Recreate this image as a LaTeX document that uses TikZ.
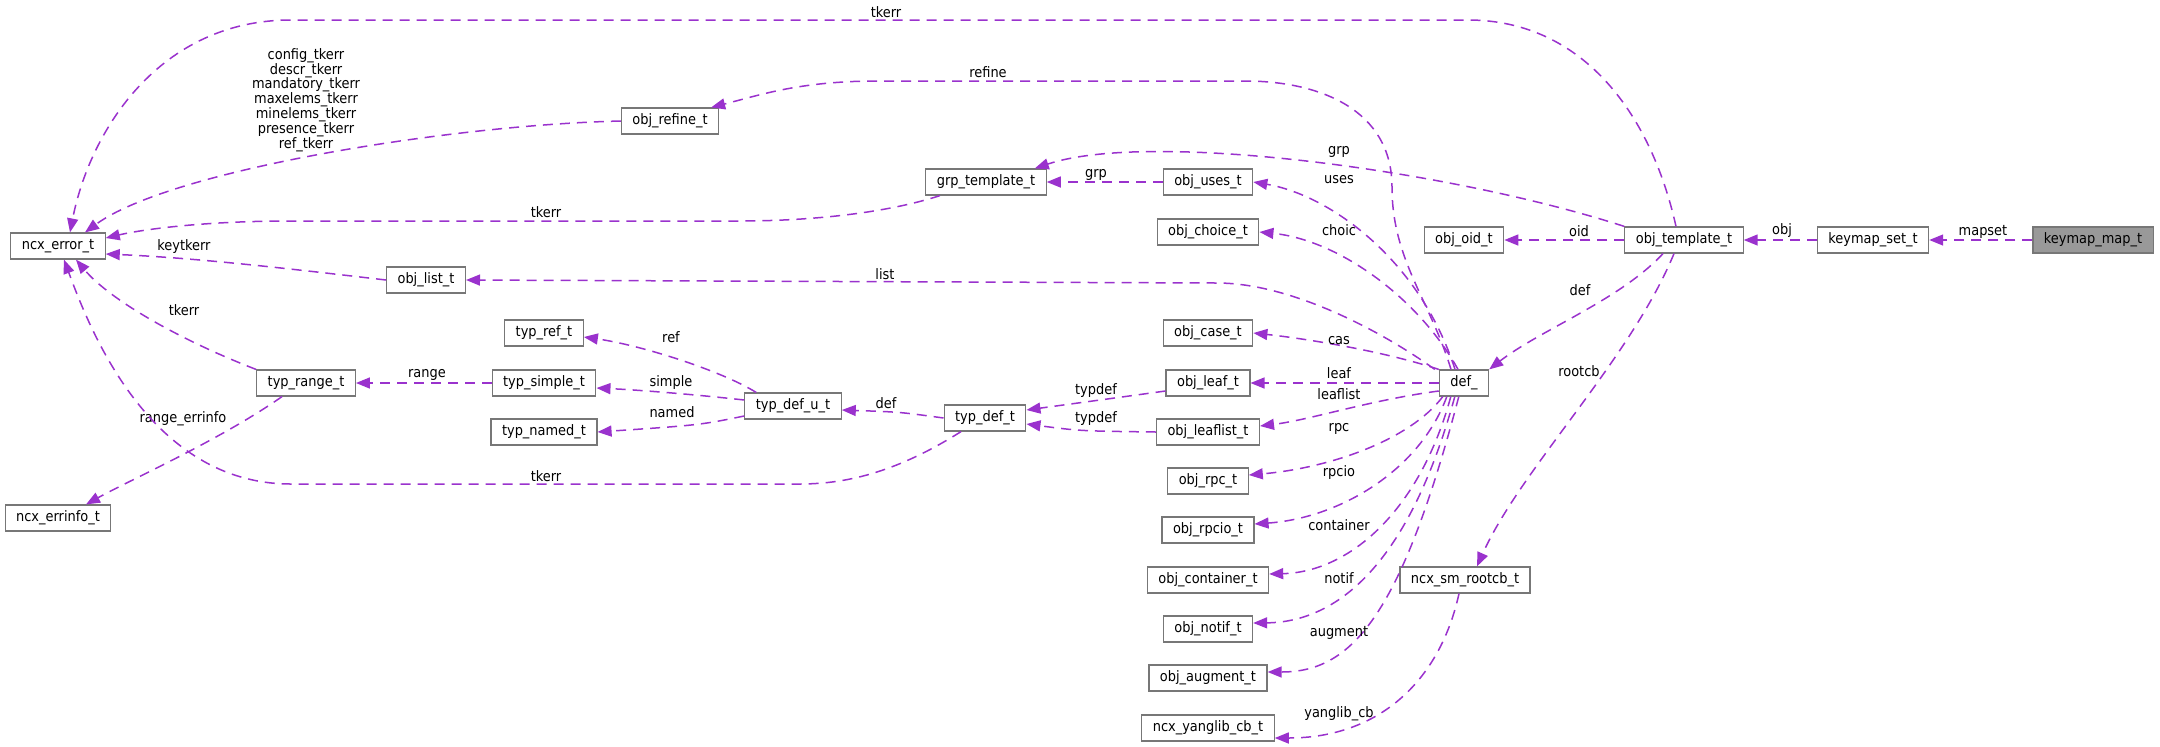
\documentclass[tikz,border=0pt]{standalone}
\usepackage{fontspec}
\setmainfont{DejaVu Sans Condensed}
\usetikzlibrary{arrows.meta}
\definecolor{memberpurple}{HTML}{9A32CD}
\definecolor{boxgray}{HTML}{777777}
\tikzset{%
	struct/.style={
		draw=boxgray,
		line width=0.6pt,
		fill=white,
		minimum height=13pt,
		inner xsep=5.5pt,
		inner ysep=0pt
	},
	focus/.style={
		struct,
		fill=black!40
	},
	member/.style={
		draw=memberpurple,
		line width=0.75pt,
		dash pattern=on 5pt off 3.5pt,
		-{Triangle[length=7pt,width=5.5pt]}
	},
	elabel/.style={inner sep=0pt},
}

\begin{document}
\begin{tikzpicture}[x=0.5pt,y=-0.5pt,font=\fontsize{7.2}{8.6}\selectfont]
			\useasboundingbox (0,0) rectangle (2160,746);
			
			\node[focus](kmap) at (2093,240){keymap\_map\_t};
			\node[struct](kset) at (1873,240){keymap\_set\_t};
			\node[struct](tmpl) at (1684,240){obj\_template\_t};
			\node[struct](oid) at (1464,240){obj\_oid\_t};
			\node[struct](defn) at (1464,383){def\_};
			\node[struct](rootcb) at (1465,580){ncx\_sm\_rootcb\_t};
			
			\node[struct](uses) at (1208,182){obj\_uses\_t};
			\node[struct](choice) at (1208,232){obj\_choice\_t};
			\node[struct](ocase) at (1208,333){obj\_case\_t};
			\node[struct](leaf) at (1208,383){obj\_leaf\_t};
			\node[struct](leaflist) at (1208,432){obj\_leaflist\_t};
			\node[struct](rpc) at (1208,481){obj\_rpc\_t};
			\node[struct](rpcio) at (1208,530){obj\_rpcio\_t};
			\node[struct](cont) at (1208,580){obj\_container\_t};
			\node[struct](notif) at (1208,629){obj\_notif\_t};
			\node[struct](augment) at (1208,678){obj\_augment\_t};
			\node[struct](yanglib) at (1208,728){ncx\_yanglib\_cb\_t};
			
			\node[struct](grp) at (986,182){grp\_template\_t};
			\node[struct](refine) at (670,121){obj\_refine\_t};
			\node[struct](olist) at (426,280){obj\_list\_t};
			\node[struct](err) at (58,246){ncx\_error\_t};
			\node[struct](errinfo) at (58,518){ncx\_errinfo\_t};
			
			\node[struct](tref) at (544,333){typ\_ref\_t};
			\node[struct](tsimple) at (544,383){typ\_simple\_t};
			\node[struct](tnamed) at (544,432){typ\_named\_t};
			\node[struct](trange) at (306,383){typ\_range\_t};
			\node[struct](tdefu) at (793,406){typ\_def\_u\_t};
			\node[struct](tdef) at (985,418){typ\_def\_t};
			
			% right part
			\draw[member] (kmap) -- (kset);
			\node[elabel](lmapset) at (1983,232){mapset};
			\draw[member] (kset) -- (tmpl);
			\node[elabel](lobj) at (1782,231){obj};
			\draw[member] (tmpl) -- (oid);
			\node[elabel](loid) at (1579,231){oid};
			\draw[member] ([xshift=-10.5pt]tmpl.south) .. controls (1620,300) and (1540,330) .. (defn.north east);
			\node[elabel](ldef) at (1580,290){def};
			\draw[member] ([xshift=-5pt]tmpl.south) .. controls (1630,360) and (1520,470) .. ([xshift=6pt]rootcb.north);
			\node[elabel](lrootcb) at (1579,371){rootcb};
			\draw[member] ([xshift=-3pt]rootcb.south) .. controls (1440,680) and (1380,738) .. ([yshift=-5pt]yanglib.east);
			\node[elabel](lyanglib) at (1339,714){yanglib\_cb};
			
			\draw[member] ([xshift=-4pt]tmpl.north) .. controls (1650,110) and (1580,20) .. (1468,20) -- (291,20) .. controls (160,20) and (90,130) .. ([xshift=6pt]err.north);
			\node[elabel](ltkerrtop) at (886,12){tkerr};
			\draw[member] (tmpl.north west) .. controls (1450,170) and (1150,130) .. ([xshift=-6pt]grp.north east);
			\node[elabel](lgrptop) at (1339,152){grp};
			
			% def_ members
			\draw[member] ([xshift=-6.5pt]defn.north) .. controls (1430,300) and (1392,260) .. (1392,187) .. controls (1392,110) and (1320,81) .. (1245,81) -- (878,81) .. controls (800,81) and (760,95) .. ([xshift=-4pt]refine.north east);
			\node[elabel](lrefine) at (988,72){refine};
			\draw[member] ([xshift=-4.5pt]defn.north) .. controls (1420,260) and (1330,195) .. (uses.east);
			\node[elabel](luses) at (1339,180){uses};
			\draw[member] ([xshift=-3pt]defn.north) .. controls (1420,300) and (1340,240) .. (choice.east);
			\node[elabel](lchoic) at (1339,230){choic};
			\draw[member] ([xshift=-2pt]defn.north west) .. controls (1380,330) and (1290,283) .. (1217,283) -- (olist.east);
			\node[elabel](llist) at (885,274){list};
			\draw[member] (defn.north west) .. controls (1380,350) and (1300,338) .. (ocase.east);
			\node[elabel](lcas) at (1339,341){cas};
			\draw[member] (defn.west) -- (leaf.east);
			\node[elabel](lleaf) at (1339,373){leaf};
			\draw[member] ([yshift=-4pt]defn.west) .. controls (1370,400) and (1310,420) .. ([yshift=3pt]leaflist.east);
			\node[elabel](lleaflist) at (1339,394){leaflist};
			\draw[member] ([xshift=2pt]defn.south west) .. controls (1410,440) and (1330,468) .. ([yshift=3pt]rpc.east);
			\node[elabel](lrpc) at (1339,429){rpc};
			\draw[member] ([xshift=4pt]defn.south west) .. controls (1420,470) and (1340,518) .. ([yshift=3pt]rpcio.east);
			\node[elabel](lrpcio) at (1339,473){rpcio};
			\draw[member] ([xshift=6pt]defn.south west) .. controls (1420,510) and (1350,572) .. ([yshift=3pt]cont.east);
			\node[elabel](lcont) at (1339,525){container};
			\draw[member] ([xshift=8pt]defn.south west) .. controls (1410,560) and (1340,622) .. ([yshift=3pt]notif.east);
			\node[elabel](lnotif) at (1339,578){notif};
			\draw[member] ([xshift=10pt]defn.south west) .. controls (1400,620) and (1350,672) .. ([yshift=3pt]augment.east);
			\node[elabel](laugment) at (1339,633){augment};
			
			% left part
			\draw[member] (uses) -- (grp);
			\node[elabel](lgrp) at (1096,175){grp};
			\draw[member] ([xshift=-23pt]grp.south) .. controls (880,215) and (800,221) .. (740,221) -- (291,221) .. controls (200,221) and (140,230) .. ([yshift=4pt]err.east);
			\node[elabel](ltkerrgrp) at (546,212){tkerr};
			\draw[member] (refine.west) .. controls (450,125) and (170,170) .. ([xshift=13.5pt]err.north);
			\node[elabel,align=center,font=\fontsize{7.2}{7.4}\selectfont](lrefinerr) at (306,100){config\_tkerr\\descr\_tkerr\\mandatory\_tkerr\\maxelems\_tkerr\\minelems\_tkerr\\presence\_tkerr\\ref\_tkerr};
			\draw[member] (olist.west) .. controls (300,270) and (200,258) .. ([yshift=-4pt]err.east);
			\node[elabel](lkeytkerr) at (184,247){keytkerr};
			\draw[member] (trange.north west) .. controls (180,340) and (110,300) .. ([xshift=9pt]err.south);
			\node[elabel](ltkerrrange) at (184,310){tkerr};
			\draw[member] ([xshift=-12pt]trange.south) .. controls (220,440) and (130,480) .. ([xshift=14pt]errinfo.north);
			\node[elabel](lerrinfo) at (183,419){range\_errinfo};
			\draw[member] (tsimple) -- (trange);
			\node[elabel](lrange) at (427,375){range};
			
			\draw[member] ([xshift=6pt]tdefu.north west) .. controls (720,370) and (640,345) .. ([yshift=-2pt]tref.east);
			\node[elabel](lref) at (671,337){ref};
			\draw[member] ([yshift=3pt]tdefu.west) .. controls (700,395) and (640,390) .. ([yshift=-2.5pt]tsimple.east);
			\node[elabel](lsimple) at (671,383){simple};
			\draw[member] ([yshift=-5pt]tdefu.west) .. controls (700,425) .. (tnamed.east);
			\node[elabel](lnamed) at (672,412){named};
			\draw[member] (tdef.west) .. controls (900,412) .. ([yshift=-2pt]tdefu.east);
			\node[elabel](ldefu) at (886,403){def};
			\draw[member] ([yshift=-4pt]leaf.west) .. controls (1100,400) .. ([yshift=4pt]tdef.east);
			\node[elabel](ltypdef) at (1096,391){typdef};
			\draw[member] (leaflist.west) .. controls (1080,431) .. ([yshift=-3pt]tdef.east);
			\node[elabel](ltypdefl) at (1096,419){typdef};
			\draw[member] ([xshift=-12pt]tdef.south) .. controls (900,470) and (850,484) .. (800,484) -- (291,484) .. controls (150,484) and (90,330) .. ([xshift=3pt]err.south);
			\node[elabel](ltkerrdef) at (546,476){tkerr};
		\end{tikzpicture}
\end{document}
